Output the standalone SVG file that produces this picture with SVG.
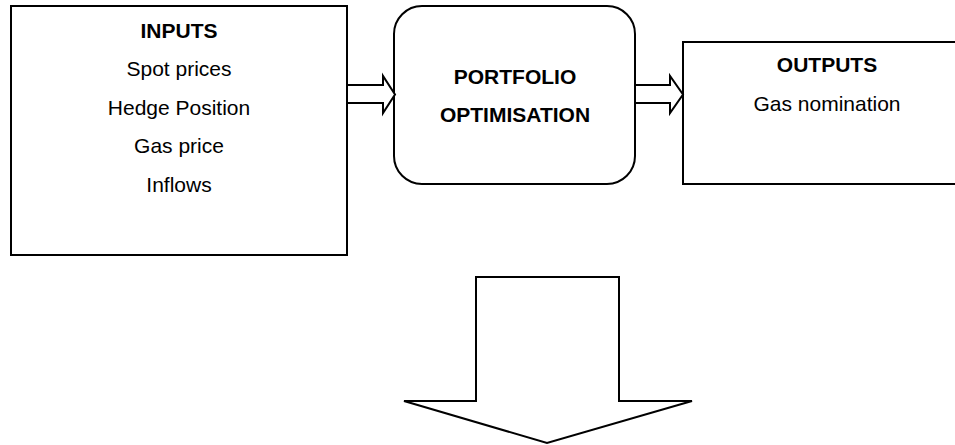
<svg xmlns="http://www.w3.org/2000/svg" width="955" height="445" viewBox="0 0 955 445">
  <style>
    .box { fill: #ffffff; stroke: #000000; stroke-width: 2; }
    .arrow { fill: #ffffff; stroke: #000000; stroke-width: 2; stroke-linejoin: miter; }
    text { font-family: "Liberation Sans", Arial, sans-serif; font-size: 21px; fill: #000000; text-anchor: middle; }
    .title { font-weight: bold; }
  </style>
  <rect width="955" height="445" fill="#ffffff"/>

  <g id="inputs">
    <rect class="box" x="11" y="6" width="336" height="249"/>
    <text class="title" x="179" y="38">INPUTS</text>
    <text x="179" y="76">Spot prices</text>
    <text x="179" y="115">Hedge Position</text>
    <text x="179" y="153">Gas price</text>
    <text x="179" y="192">Inflows</text>
  </g>

  <g id="portfolio-optimisation">
    <rect class="box" x="394" y="6" width="241" height="178" rx="28" ry="28"/>
    <text class="title" x="515" y="84">PORTFOLIO</text>
    <text class="title" x="515" y="122">OPTIMISATION</text>
  </g>

  <g id="outputs">
    <rect class="box" x="683" y="42" width="288" height="142"/>
    <text class="title" x="827" y="72">OUTPUTS</text>
    <text x="827" y="111">Gas nomination</text>
  </g>

  <g id="connectors">
    <!-- block arrow: inputs to optimisation -->
    <polygon class="arrow" points="347,85 383,85 383,76 395,94.5 383,113 383,103 347,103"/>
    <!-- block arrow: optimisation to outputs -->
    <polygon class="arrow" points="635,85 670,85 670,76 683,94.5 670,113 670,103 635,103"/>
    <!-- large downward block arrow -->
    <polygon class="arrow" points="476,277 619,277 619,401 692,401 547,443 404,401 476,401"/>
  </g>
</svg>
